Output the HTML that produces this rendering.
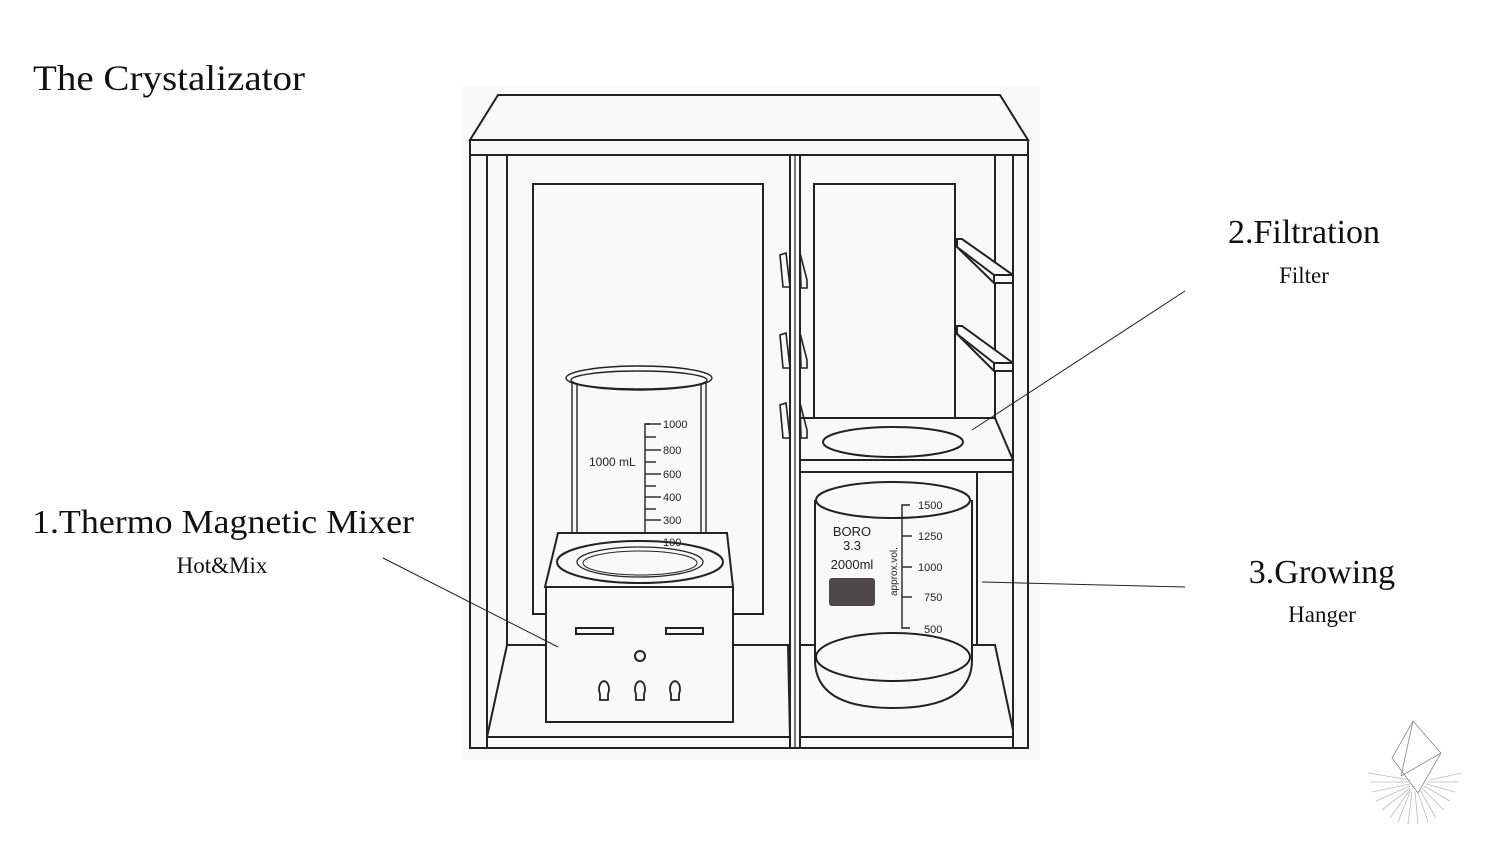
<!DOCTYPE html>
<html><head><meta charset="utf-8"><style>
html,body{margin:0;padding:0;background:#fff;}
svg{display:block;}
.t{font-family:"Liberation Serif",serif;fill:#111;}
.s{font-family:"Liberation Sans",sans-serif;fill:#222;}
</style></head><body>
<svg width="1500" height="844" viewBox="0 0 1500 844" xmlns="http://www.w3.org/2000/svg">
<rect x="462" y="85" width="578" height="675" fill="#f9f9f9"/>
<g fill="none" stroke="#222" stroke-width="2">
<polygon points="498,95 1000,95 1028,140 470,140"/>
<rect x="470" y="140" width="558" height="15"/>
<rect x="470" y="155" width="558" height="593"/>
<line x1="487" y1="155" x2="487" y2="748"/>
<line x1="507" y1="155" x2="507" y2="645"/>
<line x1="1013" y1="155" x2="1013" y2="748"/>
<line x1="995" y1="155" x2="995" y2="418"/>
<line x1="790" y1="155" x2="790" y2="748"/>
<line x1="795" y1="155" x2="795" y2="748" stroke-width="1.2"/>
<line x1="800" y1="155" x2="800" y2="748"/>
<rect x="533" y="184" width="230" height="430"/>
<rect x="814" y="184" width="141" height="234"/>
<polyline points="487,737 507,645 545,645"/>
<polyline points="733,645 788,645 790,737"/>
<line x1="487" y1="737" x2="790" y2="737"/>
<polyline points="800,645 815,645"/>
<polyline points="972,645 995,645 1013,730"/>
<line x1="800" y1="737" x2="1013" y2="737"/>
<line x1="977" y1="472" x2="977" y2="645"/>
<polygon points="800,418 995,418 1013,460 800,460" fill="#f9f9f9"/>
<rect x="800" y="460" width="213" height="12" fill="#f9f9f9"/>
<ellipse cx="893" cy="442" rx="70" ry="15"/>
<!-- brackets right -->
<polygon points="957,239 962,239 1013,275 1013,283 994,283 957,247" fill="#f9f9f9"/>
<polyline points="994,283 994,275 1013,275"/>
<line x1="957" y1="247" x2="994" y2="275"/>
<polygon points="957,326 962,326 1013,363 1013,371 994,371 957,334" fill="#f9f9f9"/>
<polyline points="994,371 994,363 1013,363"/>
<line x1="957" y1="334" x2="994" y2="363"/>
<g stroke-width="1.6">
<polygon points="780,255 786,253 790,287 783,287"/>
<polygon points="800,253 807,280 807,288 801,288"/>
<polygon points="780,335 786,333 790,368 783,368"/>
<polygon points="800,333 807,360 807,368 801,368"/>
<polygon points="780,405 786,403 790,438 783,438"/>
<polygon points="800,403 807,430 807,438 801,438"/>
</g>
<g stroke-width="1.4">
<ellipse cx="639" cy="378" rx="73" ry="12"/>
<ellipse cx="639" cy="380" rx="68" ry="9"/>
<line x1="572" y1="382" x2="572" y2="560"/>
<line x1="577" y1="385" x2="577" y2="560"/>
<line x1="706" y1="382" x2="706" y2="560"/>
<line x1="701" y1="385" x2="701" y2="560"/>
<polyline points="650,424 645,424 645,542 650,542"/>
<line x1="645" y1="424" x2="661" y2="424"/><line x1="645" y1="437" x2="656" y2="437"/>
<line x1="645" y1="450" x2="661" y2="450"/><line x1="645" y1="462" x2="656" y2="462"/>
<line x1="645" y1="474" x2="661" y2="474"/><line x1="645" y1="486" x2="656" y2="486"/>
<line x1="645" y1="497" x2="661" y2="497"/><line x1="645" y1="509" x2="656" y2="509"/>
<line x1="645" y1="520" x2="661" y2="520"/><line x1="645" y1="542" x2="661" y2="542"/>
</g>
<polygon points="558,533 727,533 733,587 545,587" fill="#f9f9f9"/>
<line x1="545" y1="593" x2="733" y2="593"/>
<rect x="546" y="587" width="187" height="135" fill="#f9f9f9"/>
<ellipse cx="640" cy="562" rx="83" ry="21"/>
<ellipse cx="640" cy="562" rx="63" ry="15" stroke-width="1.2"/>
<ellipse cx="640" cy="563" rx="57" ry="12" stroke-width="1"/>
<rect x="576" y="628" width="37" height="6"/>
<rect x="666" y="628" width="37" height="6"/>
<circle cx="640" cy="656" r="5"/>
<g stroke-width="1.8">
<path d="M600,700 L600,694 A5,8 0 1 1 608,694 L608,700 Z"/>
<path d="M636,700 L636,694 A5,8 0 1 1 644,694 L644,700 Z"/>
<path d="M671,700 L671,694 A5,8 0 1 1 679,694 L679,700 Z"/>
</g>
<path d="M815,500 L815,660 Q815,708 893,708 Q972,708 972,660 L972,500"/>
<ellipse cx="893" cy="500" rx="77" ry="18"/>
<ellipse cx="893" cy="657" rx="77" ry="24"/>
<polyline points="910,505 902,505 902,628 910,628" stroke-width="1.4"/>
<g stroke-width="1.4">
<line x1="902" y1="536" x2="912" y2="536"/><line x1="902" y1="567" x2="912" y2="567"/><line x1="902" y1="597" x2="912" y2="597"/>
</g>
<g stroke-width="1">
<line x1="383" y1="558" x2="558" y2="647"/>
<line x1="1185" y1="291" x2="972" y2="430"/>
<line x1="1185" y1="587" x2="982" y2="582"/>
</g>
</g>
<rect x="829" y="578" width="46" height="28" rx="3" fill="#4e4648"/>
<g class="s" font-size="11">
<text x="663" y="428">1000</text><text x="663" y="454">800</text><text x="663" y="478">600</text>
<text x="663" y="501">400</text><text x="663" y="524">300</text><text x="663" y="546">100</text>
<text x="589" y="466" font-size="12">1000 mL</text>
<text x="918" y="509">1500</text><text x="918" y="540">1250</text><text x="918" y="571">1000</text>
<text x="924" y="601">750</text><text x="924" y="633">500</text>
<text x="852" y="536" font-size="13" text-anchor="middle">BORO</text>
<text x="852" y="550" font-size="13" text-anchor="middle">3.3</text>
<text x="852" y="569" font-size="13" text-anchor="middle">2000ml</text>
<text transform="translate(897,596) rotate(-90)" font-size="10">approx.vol.</text>
</g>
<g class="t">
<text x="33" y="90" font-size="36" textLength="272" lengthAdjust="spacingAndGlyphs">The Crystalizator</text>
<text x="32" y="533" font-size="34" textLength="382" lengthAdjust="spacingAndGlyphs">1.Thermo Magnetic Mixer</text>
<text x="222" y="573" font-size="23" text-anchor="middle">Hot&amp;Mix</text>
<text x="1304" y="243" font-size="34" text-anchor="middle">2.Filtration</text>
<text x="1304" y="283" font-size="23" text-anchor="middle">Filter</text>
<text x="1322" y="583" font-size="34" text-anchor="middle">3.Growing</text>
<text x="1322" y="622" font-size="23" text-anchor="middle">Hanger</text>
</g>
<g stroke="#888" stroke-width="0.8" fill="none">
<polygon points="1413,721 1441,753 1418,793 1392,758"/>
<line x1="1413" y1="721" x2="1401" y2="776"/>
<line x1="1401" y1="776" x2="1441" y2="753"/>
<g stroke="#bbb">
<line x1="1410" y1="780" x2="1368" y2="773"/><line x1="1410" y1="782" x2="1370" y2="782"/>
<line x1="1410" y1="784" x2="1372" y2="792"/><line x1="1410" y1="786" x2="1376" y2="801"/>
<line x1="1410" y1="788" x2="1382" y2="810"/><line x1="1410" y1="790" x2="1390" y2="818"/>
<line x1="1410" y1="792" x2="1398" y2="822"/><line x1="1412" y1="792" x2="1408" y2="824"/>
<line x1="1415" y1="792" x2="1418" y2="824"/><line x1="1418" y1="792" x2="1428" y2="822"/>
<line x1="1420" y1="790" x2="1436" y2="818"/><line x1="1422" y1="788" x2="1444" y2="810"/>
<line x1="1424" y1="786" x2="1450" y2="801"/><line x1="1426" y1="784" x2="1455" y2="792"/>
<line x1="1428" y1="782" x2="1458" y2="782"/><line x1="1430" y1="780" x2="1462" y2="773"/>
</g>
</g>
</svg>
</body></html>
